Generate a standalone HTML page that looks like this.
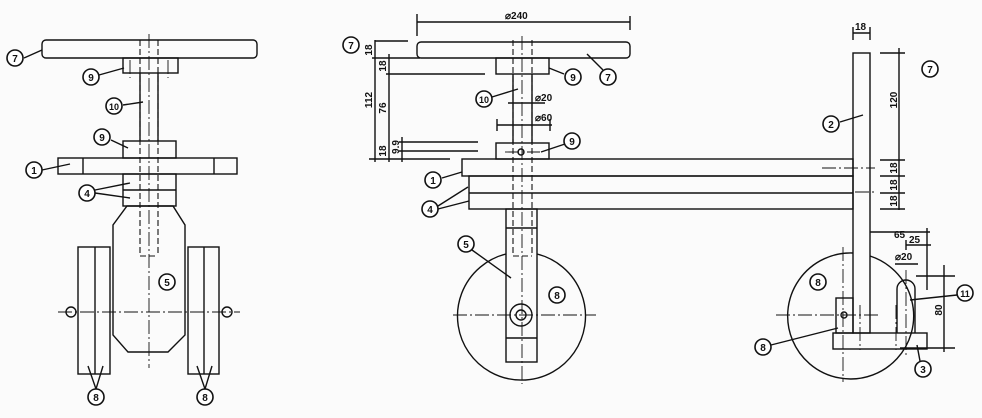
<!DOCTYPE html>
<html><head><meta charset="utf-8"><style>
html,body{margin:0;padding:0;background:#fbfbfb;}
svg{display:block}
text{font-family:"Liberation Sans",sans-serif;font-weight:bold;fill:#111;}
</style></head><body>
<svg width="982" height="418" viewBox="0 0 982 418" xmlns="http://www.w3.org/2000/svg">
<defs>
<g id="c"><circle r="8" fill="#fff" stroke="#111" stroke-width="1.6"/></g>
</defs>
<g fill="none" stroke="#111" stroke-width="1.4">
<!-- LEFT VIEW -->
<rect x="42" y="40" width="215" height="18" rx="4"/>
<rect x="123" y="58" width="55" height="15"/>
<line x1="140" y1="73" x2="140" y2="141"/><line x1="158" y1="73" x2="158" y2="141"/>
<rect x="123" y="141" width="53" height="17"/>
<rect x="58" y="158" width="179" height="16"/>
<line x1="83" y1="158" x2="83" y2="174"/><line x1="214" y1="158" x2="214" y2="174"/>
<rect x="123" y="174" width="53" height="32"/>
<line x1="123" y1="190" x2="176" y2="190"/>
<polygon points="127,206 173,206 185,225 185,335 168,352 128,352 113,335 113,225"/>
<rect x="78" y="247" width="32" height="127"/><line x1="95" y1="247" x2="95" y2="374"/>
<rect x="188" y="247" width="31" height="127"/><line x1="204" y1="247" x2="204" y2="374"/>
<g stroke-dasharray="6,3" stroke-width="1.1">
<line x1="140" y1="40" x2="140" y2="256"/><line x1="158" y1="40" x2="158" y2="256"/>
<line x1="140" y1="256" x2="158" y2="256"/>
</g>
<g stroke-dasharray="14,3,2,3" stroke-width="0.9">
<line x1="149" y1="34" x2="149" y2="368"/>
<line x1="58" y1="312" x2="240" y2="312"/>
<line x1="130" y1="60" x2="130" y2="78"/><line x1="168" y1="60" x2="168" y2="78"/>
</g>
<circle cx="71" cy="312" r="5"/><circle cx="227" cy="312" r="5"/>
<!-- leaders left -->
<line x1="24" y1="58" x2="42" y2="50"/>
<line x1="99" y1="75" x2="124" y2="68"/>
<line x1="123" y1="105" x2="143" y2="102"/>
<line x1="111" y1="140" x2="128" y2="148"/>
<line x1="42" y1="170" x2="70" y2="164"/>
<line x1="95" y1="190" x2="130" y2="183"/><line x1="95" y1="193" x2="130" y2="198"/>
<line x1="96" y1="389" x2="88" y2="366"/><line x1="96" y1="389" x2="103" y2="366"/>
<line x1="205" y1="389" x2="197" y2="366"/><line x1="205" y1="389" x2="212" y2="366"/>

<!-- MIDDLE VIEW -->
<line x1="417" y1="22" x2="630" y2="22"/>
<line x1="417" y1="14" x2="417" y2="36"/><line x1="630" y1="16" x2="630" y2="30"/>
<rect x="417" y="42" width="213" height="16" rx="4"/>
<rect x="496" y="58" width="53" height="16"/>
<line x1="513" y1="74" x2="513" y2="143"/><line x1="532" y1="74" x2="532" y2="143"/>
<rect x="496" y="143" width="53" height="16"/>
<rect x="462" y="159" width="391" height="17"/>
<rect x="469" y="176" width="384" height="33"/><line x1="469" y1="193" x2="853" y2="193"/>
<rect x="506" y="209" width="31" height="153"/>
<line x1="506" y1="228" x2="537" y2="228"/><line x1="506" y1="338" x2="537" y2="338"/>
<path d="M506,254 A64,64 0 1,0 537,254"/>
<path d="M537,254 A64,64 0 0,0 506,254" stroke="none"/>
<circle cx="521" cy="315" r="11"/><circle cx="521" cy="315" r="5"/>
<circle cx="521" cy="152" r="3"/>
<g stroke-dasharray="6,3" stroke-width="1.1">
<line x1="513" y1="40" x2="513" y2="256"/><line x1="532" y1="40" x2="532" y2="256"/>
<line x1="513" y1="256" x2="532" y2="256"/>
</g>
<g stroke-dasharray="14,3,2,3" stroke-width="0.9">
<line x1="522" y1="36" x2="522" y2="384"/>
<line x1="453" y1="315" x2="596" y2="315"/>
<line x1="505" y1="152" x2="540" y2="152"/>
</g>
<!-- left dims -->
<line x1="375" y1="40" x2="375" y2="162"/><line x1="389" y1="54" x2="389" y2="162"/><line x1="402" y1="137" x2="402" y2="162"/>
<line x1="375" y1="41" x2="408" y2="41"/><line x1="372" y1="58" x2="420" y2="58"/>
<line x1="386" y1="74" x2="485" y2="74"/><line x1="399" y1="142" x2="478" y2="142"/>
<line x1="399" y1="151" x2="478" y2="151"/><line x1="369" y1="159" x2="450" y2="159"/>
<line x1="497" y1="125" x2="552" y2="125"/><line x1="497" y1="119" x2="497" y2="131"/><line x1="550" y1="119" x2="550" y2="131"/>
<line x1="508" y1="103" x2="545" y2="103"/>
<!-- leaders mid -->
<line x1="549" y1="68" x2="564" y2="74"/>
<line x1="587" y1="54" x2="603" y2="70"/>
<line x1="492" y1="97" x2="518" y2="89"/>
<line x1="541" y1="152" x2="565" y2="144"/>
<line x1="442" y1="178" x2="462" y2="172"/>
<line x1="438" y1="206" x2="468" y2="187"/><line x1="438" y1="209" x2="469" y2="201"/>
<line x1="472" y1="250" x2="511" y2="278"/>

<!-- RIGHT VIEW -->
<rect x="853" y="53" width="17" height="280"/>
<line x1="853" y1="33" x2="870" y2="33"/><line x1="853" y1="27" x2="853" y2="40"/><line x1="870" y1="27" x2="870" y2="40"/>
<line x1="899" y1="48" x2="899" y2="210"/>
<line x1="880" y1="53" x2="905" y2="53"/><line x1="880" y1="160" x2="905" y2="160"/>
<line x1="880" y1="176" x2="905" y2="176"/><line x1="880" y1="193" x2="905" y2="193"/><line x1="880" y1="209" x2="905" y2="209"/>
<path d="M853,253 A63,63 0 1,0 870,256"/>
<rect x="833" y="333" width="94" height="16"/>
<path d="M897,333 L897,289 A9,9 0 0,1 915,289 L915,333"/>
<rect x="836" y="298" width="17" height="35"/>
<circle cx="844" cy="315" r="3"/>
<line x1="870" y1="232" x2="930" y2="232"/><line x1="927" y1="228" x2="927" y2="290"/>
<line x1="906" y1="245" x2="931" y2="245"/><line x1="906" y1="240" x2="906" y2="250"/>
<line x1="895" y1="264" x2="918" y2="264"/>
<line x1="916" y1="276" x2="955" y2="276"/><line x1="900" y1="348" x2="955" y2="348"/><line x1="944" y1="265" x2="944" y2="352"/>
<line x1="910" y1="300" x2="957" y2="295"/>
<line x1="920" y1="361" x2="917" y2="345"/>
<line x1="840" y1="122" x2="863" y2="115"/>
<line x1="771" y1="345" x2="838" y2="328"/>
<g stroke-dasharray="14,3,2,3" stroke-width="0.9">
<line x1="843" y1="247" x2="843" y2="382"/>
<line x1="776" y1="315" x2="880" y2="315"/>
<line x1="906" y1="270" x2="906" y2="355"/>
<line x1="822" y1="168" x2="875" y2="168"/><line x1="855" y1="192" x2="875" y2="192"/>
<line x1="860" y1="305" x2="860" y2="350"/><line x1="896" y1="305" x2="896" y2="350"/>
</g>
</g>
<!-- circles labels -->
<g>
<use href="#c" x="15" y="58"/><use href="#c" x="91" y="77"/><use href="#c" x="114" y="106"/>
<use href="#c" x="102" y="137"/><use href="#c" x="34" y="170"/><use href="#c" x="87" y="193"/>
<use href="#c" x="167" y="282"/><use href="#c" x="96" y="397"/><use href="#c" x="205" y="397"/>
<use href="#c" x="351" y="45"/><use href="#c" x="573" y="77"/><use href="#c" x="608" y="77"/>
<use href="#c" x="484" y="99"/><use href="#c" x="572" y="141"/><use href="#c" x="433" y="180"/>
<use href="#c" x="430" y="209"/><use href="#c" x="466" y="244"/><use href="#c" x="557" y="295"/>
<use href="#c" x="930" y="69"/><use href="#c" x="831" y="124"/><use href="#c" x="818" y="282"/>
<use href="#c" x="763" y="347"/><use href="#c" x="965" y="293"/><use href="#c" x="923" y="369"/>
</g>
<g font-size="10" text-anchor="middle">
<text x="15" y="62">7</text><text x="91" y="81">9</text><text x="114" y="110" font-size="9">10</text>
<text x="102" y="141">9</text><text x="34" y="174">1</text><text x="87" y="197">4</text>
<text x="167" y="286">5</text><text x="96" y="401">8</text><text x="205" y="401">8</text>
<text x="351" y="49">7</text><text x="573" y="81">9</text><text x="608" y="81">7</text>
<text x="484" y="103" font-size="9">10</text><text x="572" y="145">9</text><text x="433" y="184">1</text>
<text x="430" y="213">4</text><text x="466" y="248">5</text><text x="557" y="299">8</text>
<text x="930" y="73">7</text><text x="831" y="128">2</text><text x="818" y="286">8</text>
<text x="763" y="351">8</text><text x="965" y="297" font-size="9">11</text><text x="923" y="373">3</text>
</g>
<g font-size="10">
<text x="505" y="19">⌀240</text>
<text x="535" y="101">⌀20</text><text x="535" y="121">⌀60</text>
<text x="855" y="30">18</text>
<text x="894" y="238">65</text><text x="909" y="243">25</text><text x="895" y="260">⌀20</text>
</g>
<g font-size="10" text-anchor="middle">
<text transform="translate(372,50) rotate(-90)">18</text>
<text transform="translate(386,66) rotate(-90)">18</text>
<text transform="translate(372,100) rotate(-90)">112</text>
<text transform="translate(386,108) rotate(-90)">76</text>
<text transform="translate(386,151) rotate(-90)">18</text>
<text transform="translate(399,147) rotate(-90)">9.9</text>
<text transform="translate(897,100) rotate(-90)">120</text>
<text transform="translate(897,168) rotate(-90)">18</text>
<text transform="translate(897,185) rotate(-90)">18</text>
<text transform="translate(897,201) rotate(-90)">18</text>
<text transform="translate(942,310) rotate(-90)">80</text>
</g>
</svg>
</body></html>
